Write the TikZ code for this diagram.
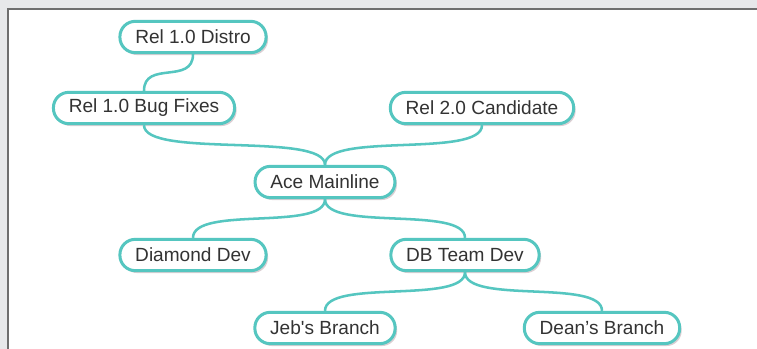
\documentclass[tikz,border=0pt]{standalone}
\usepackage{fontspec}
\setmainfont{Liberation Sans}
\usetikzlibrary{calc,shadows}

\definecolor{branchteal}{HTML}{55C6C0}
\definecolor{shadowpink}{HTML}{B8A0A8}
\definecolor{panelgray}{HTML}{6E6E6E}
\definecolor{backgray}{HTML}{E7E8EA}
\definecolor{labelgray}{HTML}{333333}

\tikzset{
  codeline/.style={draw=branchteal, line width=2.25pt, fill=white,
    rounded corners=11.5pt, minimum height=23.5pt, inner xsep=11.5pt, inner ysep=0pt,
    text=labelgray, font=\fontsize{14.3}{16}\selectfont,
    drop shadow={shadow xshift=1.5pt, shadow yshift=-1.8pt, fill=shadowpink, opacity=.5}},
  linkline/.style={draw=branchteal, line width=1.9pt,
    to path={.. controls ($(\tikztostart)!.84!(\tikztostart |- \tikztotarget)$)
      and ($(\tikztotarget)!.84!(\tikztotarget |- \tikztostart)$) .. (\tikztotarget)}}
}

\begin{document}
\begin{tikzpicture}[x=0.75pt, y=-0.75pt]
  \useasboundingbox (0,0) rectangle (757,349);
  % panel
  \fill[backgray] (0,0) rectangle (757,349);
  \fill[white] (8,9) rectangle (757,349);
  \draw[panelgray, line width=1.5pt] (8,349) -- (8,9) -- (757,9);

  % branches
  \node[codeline] (distro)    at (193,37)  {Rel 1.0 Distro};
  \node[codeline] (bugfix)    at (144,108) {Rel 1.0 Bug Fixes};
  \node[codeline] (candidate) at (482,108) {Rel 2.0 Candidate};
  \node[codeline] (ace)       at (325,182) {Ace Mainline};
  \node[codeline] (diamond)   at (193,255) {Diamond Dev};
  \node[codeline] (dbteam)    at (465,255) {DB Team Dev};
  \node[codeline] (jeb)       at (325,328) {Jeb\textquotesingle s Branch};
  \node[codeline] (dean)      at (602,328) {Dean’s Branch};

  % links
  \draw[linkline] (distro.south) to (bugfix.north);
  \draw[linkline] (bugfix.south) to (ace.north);
  \draw[linkline] (candidate.south) to (ace.north);
  \draw[linkline] (ace.south) to (diamond.north);
  \draw[linkline] (ace.south) to (dbteam.north);
  \draw[linkline] (dbteam.south) to (jeb.north);
  \draw[linkline] (dbteam.south) to (dean.north);
\end{tikzpicture}
\end{document}
